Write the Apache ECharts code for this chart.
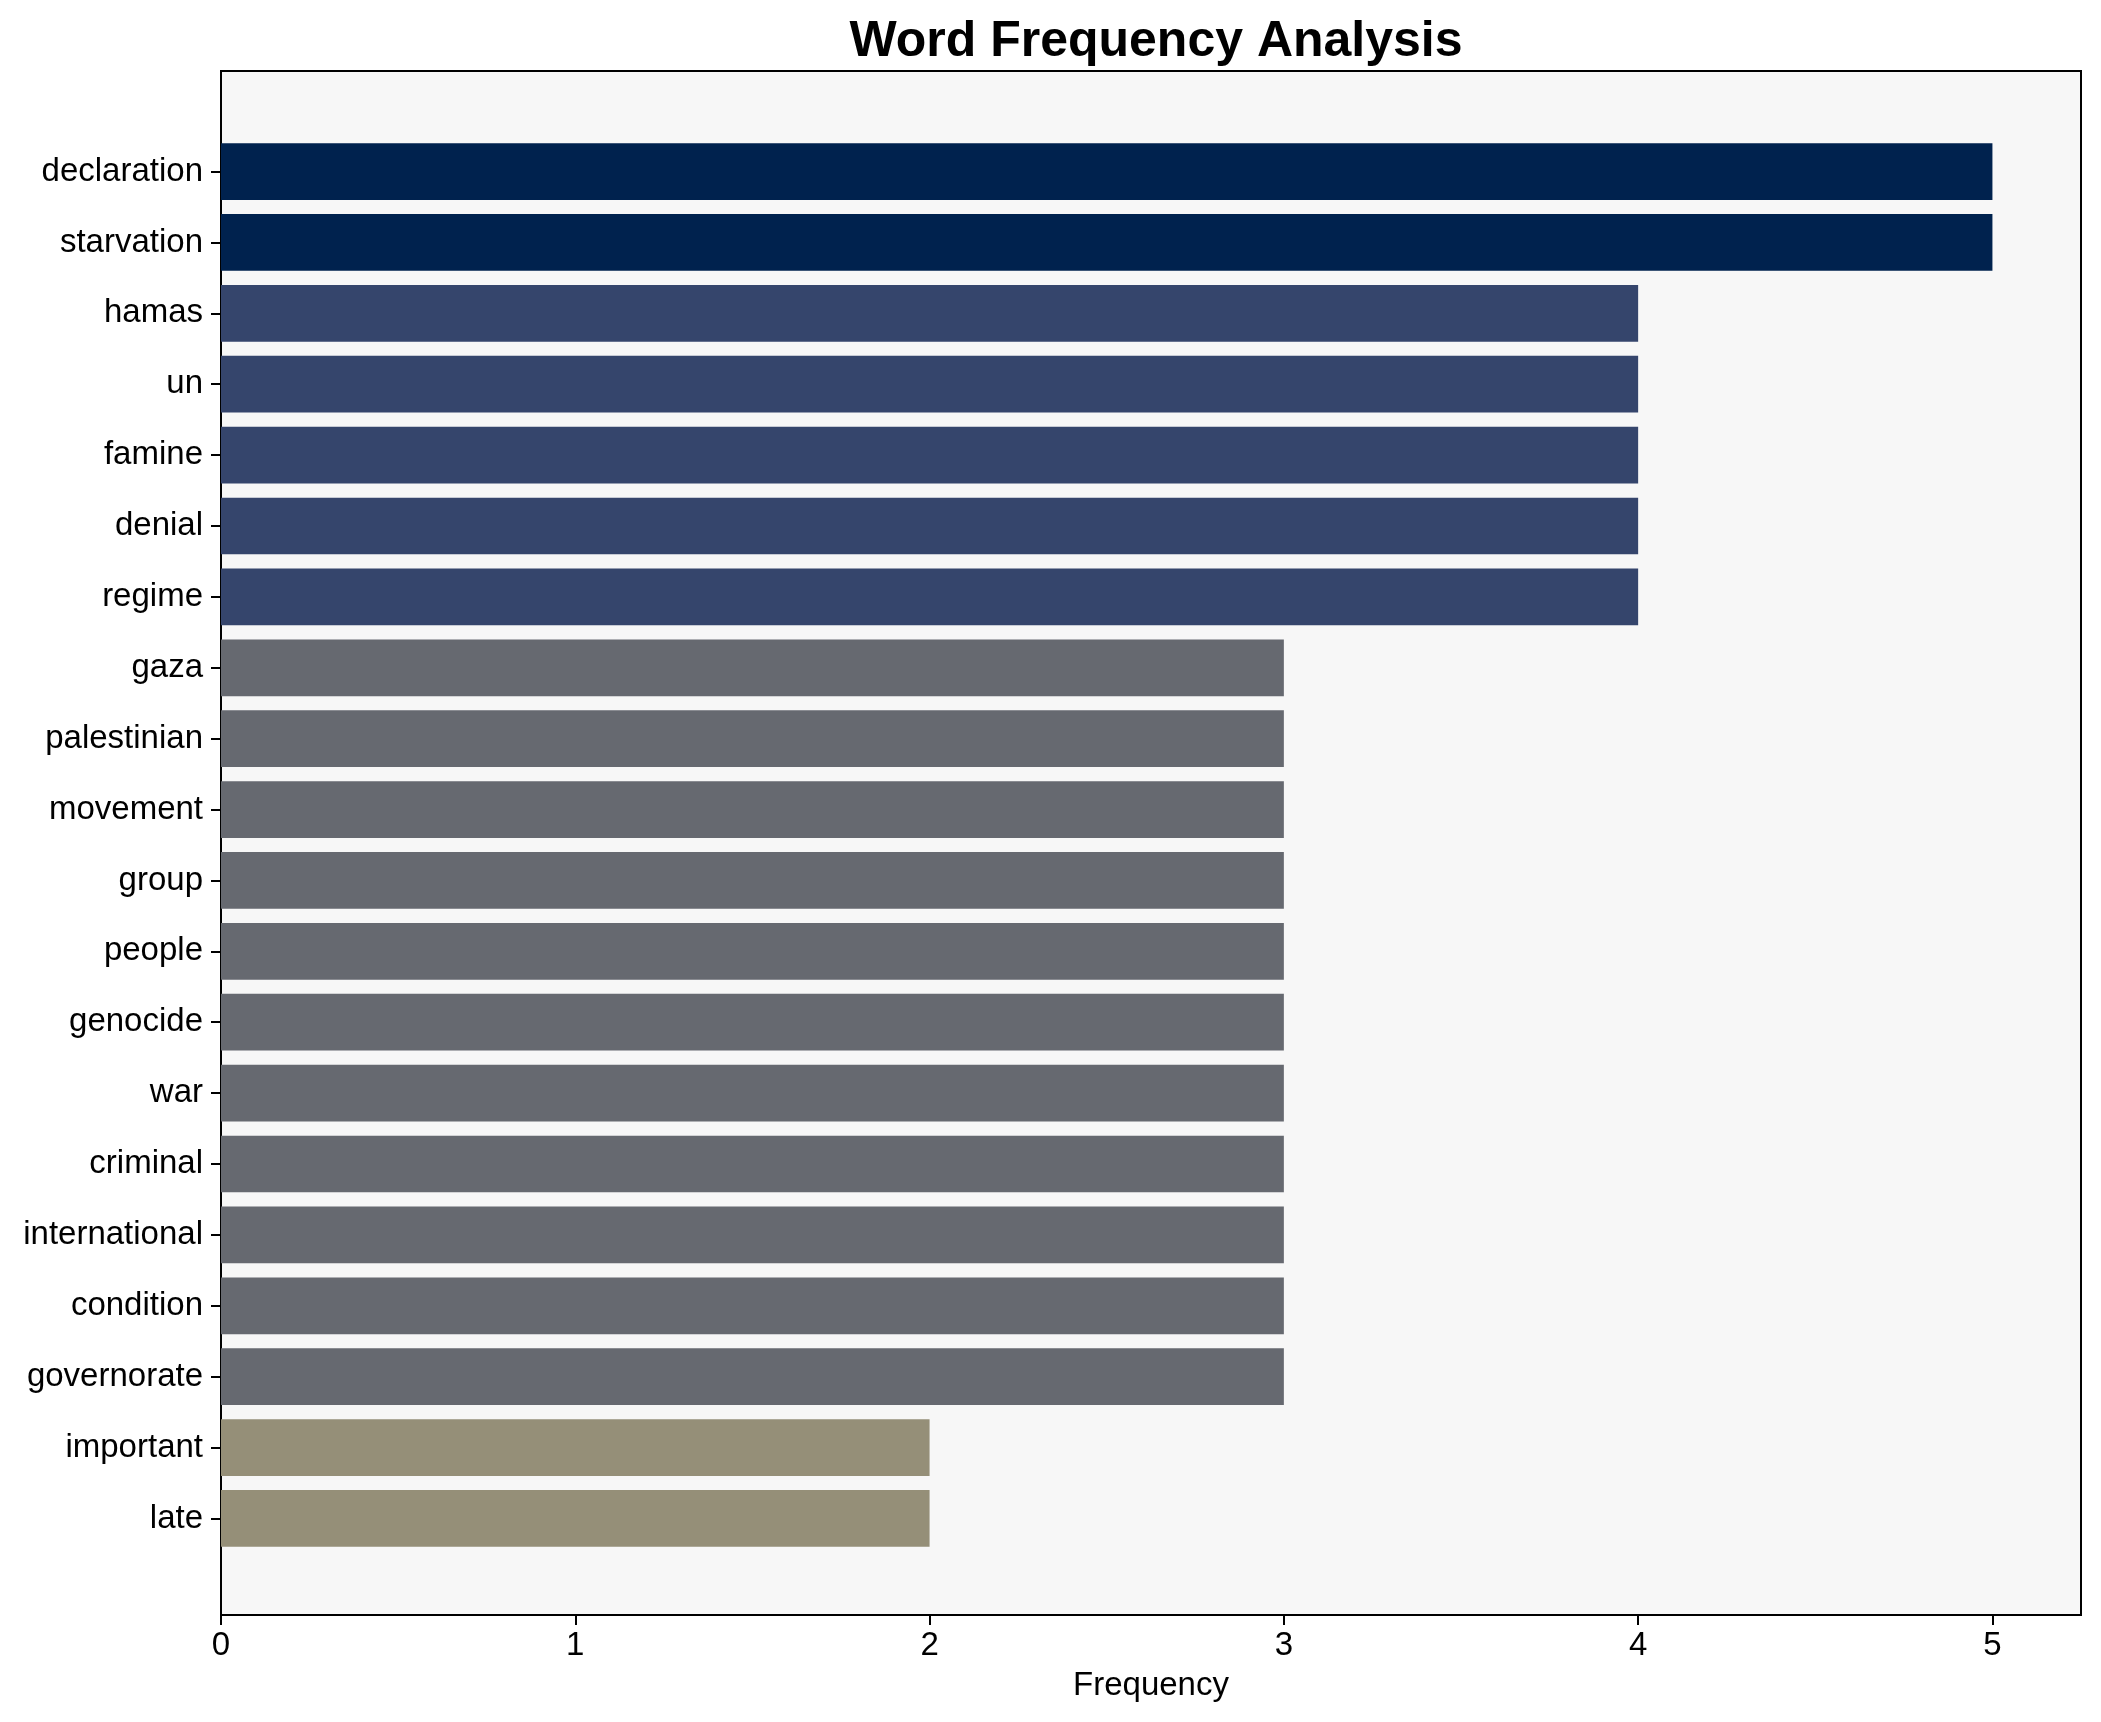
<!DOCTYPE html>
<html>
<head>
<meta charset="utf-8">
<script src="https://cdn.jsdelivr.net/npm/echarts@6/dist/echarts.min.js"></script>
<style>
html,body{margin:0;padding:0;background:#fff;}
#chart{width:2101px;height:1722px;}
</style>
</head>
<body>
<div id="chart"></div>
<script>
const words = ["declaration","starvation","hamas","un","famine","denial","regime","gaza","palestinian","movement","group","people","genocide","war","criminal","international","condition","governorate","important","late"];
const counts = [5,5,4,4,4,4,4,3,3,3,3,3,3,3,3,3,3,3,2,2];
const colorByCount = {5:"#00224e",4:"#35456c",3:"#666970",2:"#958f78"};
const xTicks = [0,1,2,3,4,5];

const chart = echarts.init(document.getElementById('chart'), null, {renderer:'canvas'});
const FONT = "'Liberation Sans', Arial, sans-serif";
const L = 221, R = 2101-2081, T = 71, B = 1722-1615;
const pitch = (1615-71)/21.78;
const inset = (1.39-0.5)*pitch;

chart.setOption({
  backgroundColor:'#ffffff',
  animation:false,
  title:{
    text:'Word Frequency Analysis', left:(221+2081)/2, textAlign:'center', top:12,
    textStyle:{fontFamily:FONT,fontWeight:'bold',fontSize:50,color:'#000'}
  },
  grid:[
    {left:L,right:R,top:T,bottom:B,show:true,backgroundColor:'#f7f7f7',borderColor:'#000',borderWidth:2,containLabel:false},
    {left:L,right:R,top:T+inset+2,bottom:B+inset-2,containLabel:false}
  ],
  xAxis:[
    {gridIndex:0,type:'value',min:0,max:5.25,interval:1,
     name:'Frequency',nameLocation:'middle',nameGap:54,
     nameTextStyle:{fontFamily:FONT,fontSize:33,color:'#000'},
     axisLine:{show:false},
     axisTick:{show:true,length:10,customValues:xTicks,lineStyle:{color:'#000',width:2}},
     axisLabel:{fontFamily:FONT,fontSize:33,color:'#000',margin:14,customValues:xTicks,
       formatter:function(v){return xTicks.indexOf(v)>=0?String(v):'';}},
     splitLine:{show:false}},
    {gridIndex:1,type:'value',min:0,max:5.25,show:false,splitLine:{show:false}}
  ],
  yAxis:[
    {gridIndex:0,type:'value',min:0,max:1,show:false,splitLine:{show:false}},
    {gridIndex:1,type:'category',data:words,inverse:true,
     axisLine:{show:false},
     axisTick:{show:true,alignWithLabel:true,length:10,lineStyle:{color:'#000',width:2}},
     axisLabel:{fontFamily:FONT,fontSize:33,color:'#000',margin:18},
     splitLine:{show:false}}
  ],
  series:[{
    type:'bar',xAxisIndex:1,yAxisIndex:1,
    barCategoryGap:'20%',
    data:counts.map(c=>({value:c,itemStyle:{color:colorByCount[c]}}))
  }]
});
</script>
</body>
</html>
